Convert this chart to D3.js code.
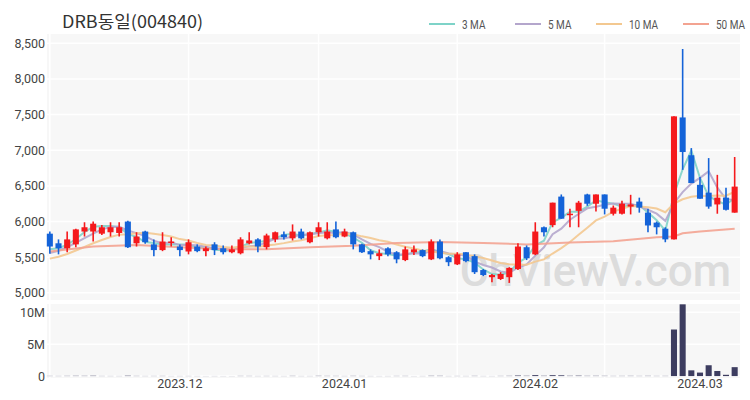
<!DOCTYPE html>
<html>
<head>
<meta charset="utf-8">
<script src="https://cdn.jsdelivr.net/npm/d3@7"></script>
<style>
  body { margin: 0; background: #fff; }
  svg { display: block; font-family: "Noto Sans CJK KR", "Noto Sans", sans-serif; }
</style>
</head>
<body>
<div id="chart"></div>
<script>
// DRB동일(004840) daily candles + moving averages + volume

const title = "DRB동일(004840)";

const dates = [
  "2023-11-10", "2023-11-13", "2023-11-14", "2023-11-15", "2023-11-16", "2023-11-17", "2023-11-20", "2023-11-21",
  "2023-11-22", "2023-11-23", "2023-11-24", "2023-11-27", "2023-11-28", "2023-11-29", "2023-11-30",
  "2023-12-01", "2023-12-04", "2023-12-05", "2023-12-06", "2023-12-07", "2023-12-08", "2023-12-11", "2023-12-12",
  "2023-12-13", "2023-12-14", "2023-12-15", "2023-12-18", "2023-12-19", "2023-12-20", "2023-12-21", "2023-12-22",
  "2023-12-26", "2023-12-27", "2023-12-28",
  "2024-01-02", "2024-01-03", "2024-01-04", "2024-01-05", "2024-01-08", "2024-01-09", "2024-01-10", "2024-01-11",
  "2024-01-12", "2024-01-15", "2024-01-16", "2024-01-17", "2024-01-18", "2024-01-19", "2024-01-22", "2024-01-23",
  "2024-01-24", "2024-01-25", "2024-01-26", "2024-01-29", "2024-01-30", "2024-01-31",
  "2024-02-01", "2024-02-02", "2024-02-05", "2024-02-06", "2024-02-07", "2024-02-08", "2024-02-13", "2024-02-14",
  "2024-02-15", "2024-02-16", "2024-02-19", "2024-02-20", "2024-02-21", "2024-02-22", "2024-02-23", "2024-02-26",
  "2024-02-27", "2024-02-28", "2024-02-29",
  "2024-03-04", "2024-03-05", "2024-03-06", "2024-03-07", "2024-03-08"
];

const open = [
  5830, 5695, 5625, 5680, 5860, 5860, 5830, 5850, 5840, 6000, 5695, 5860, 5680, 5600, 5710,
  5650, 5580, 5650, 5585, 5680, 5625, 5570, 5555, 5695, 5750, 5640, 5750, 5820, 5765, 5860, 5710, 5850, 5765, 5890,
  5790, 5850, 5680, 5585, 5515, 5625, 5570, 5460, 5570, 5600, 5470, 5720, 5500, 5400, 5570, 5515, 5320, 5220, 5195, 5220, 5335, 5640,
  5540, 5920, 5950, 6350, 6100, 6150, 6380, 6250, 6380, 6110, 6110, 6210, 6280, 6125, 5985, 5900, 5750, 7460, 6930,
  6515, 6405, 6240, 6335, 6125
];
const high = [
  5860, 5750, 5860, 5900, 5990, 6000, 5950, 5990, 5990, 6010, 5850, 5870, 5750, 5850, 5780,
  5680, 5750, 5680, 5650, 5710, 5665, 5665, 5780, 5850, 5765, 5830, 5860, 5860, 5960, 5900, 5860, 5990, 5990, 6000,
  5900, 5860, 5690, 5610, 5610, 5640, 5585, 5650, 5665, 5610, 5750, 5750, 5515, 5570, 5570, 5540, 5335, 5265, 5290, 5360, 5695, 5665,
  5990, 5930, 6265, 6380, 6180, 6290, 6390, 6380, 6380, 6225, 6290, 6375, 6335, 6180, 6000, 5920, 7475, 8420, 7030,
  6625, 6890, 6655, 6475, 6905
];
const low = [
  5550, 5540, 5570, 5640, 5790, 5720, 5810, 5790, 5790, 5630, 5650, 5690, 5515, 5585, 5650,
  5515, 5540, 5570, 5515, 5530, 5540, 5555, 5540, 5680, 5570, 5610, 5710, 5750, 5735, 5750, 5695, 5790, 5750, 5765,
  5780, 5610, 5560, 5470, 5460, 5515, 5415, 5445, 5530, 5500, 5460, 5470, 5375, 5390, 5430, 5265, 5235, 5150, 5180, 5140, 5320, 5460,
  5530, 5790, 5920, 6040, 5920, 5920, 6220, 6140, 6100, 6085, 6100, 6100, 6125, 5850, 5820, 5710, 5750, 6725, 6540,
  6320, 6180, 6110, 6155, 6125
];
const close = [
  5650, 5625, 5750, 5890, 5920, 5970, 5920, 5920, 5920, 5640, 5790, 5710, 5600, 5720, 5720,
  5600, 5710, 5585, 5625, 5600, 5570, 5610, 5750, 5735, 5650, 5805, 5850, 5780, 5860, 5765, 5850, 5920, 5860, 5780,
  5860, 5680, 5570, 5540, 5555, 5540, 5470, 5610, 5610, 5515, 5720, 5485, 5430, 5540, 5445, 5290, 5250, 5250, 5265, 5350, 5650, 5485,
  5860, 5850, 6265, 6040, 6110, 6265, 6250, 6380, 6180, 6195, 6250, 6240, 6195, 5945, 5920, 5750, 7475, 6975, 6540,
  6320, 6210, 6335, 6165, 6490
];
const volume = [
  30000, 25000, 35000, 45000, 40000, 55000, 25000, 22000, 20000, 60000, 30000, 22000, 25000, 28000, 18000,
  20000, 22000, 18000, 15000, 18000, 15000, 14000, 30000, 28000, 20000, 25000, 22000, 19000, 35000, 21000, 20000, 40000, 32000, 30000,
  22000, 35000, 25000, 20000, 18000, 19000, 28000, 30000, 15000, 20000, 45000, 42000, 20000, 25000, 22000, 35000, 20000, 18000, 30000, 40000, 90000, 50000,
  150000, 50000, 140000, 120000, 50000, 70000, 40000, 45000, 40000, 28000, 32000, 38000, 30000, 38000, 28000, 32000,
  7300000, 11250000, 900000,
  550000, 1700000, 800000, 200000, 1400000
];
// closes before the visible window (for the short moving averages)
const priorCloses = [5350, 5380, 5400, 5420, 5450, 5470, 5500, 5580, 5600];

// 50-day MA at selected days
const ma50Dates = [
  "2023-11-10", "2023-11-17", "2023-11-24", "2023-12-01", "2023-12-08", "2023-12-15", "2023-12-22",
  "2024-01-03", "2024-01-10", "2024-01-17", "2024-01-24", "2024-01-31", "2024-02-07", "2024-02-16",
  "2024-02-23", "2024-02-27", "2024-02-28", "2024-03-04", "2024-03-08"
];
const ma50Values = [
  5580, 5650, 5670, 5640, 5610, 5610, 5640,
  5660, 5700, 5715, 5700, 5680, 5705, 5725,
  5780, 5790, 5835, 5860, 5900
];

const priceTicks = [5000, 5500, 6000, 6500, 7000, 7500, 8000, 8500];
const volumeTicks = [0, 5000000, 10000000];
const monthTicks = ["2023-12-01", "2024-01-02", "2024-02-01", "2024-03-04"];
const gridDays = ["2023-11-10", "2023-12-04", "2023-12-26", "2024-01-19", "2024-02-15"];

const maSeries = [
  { label: "3 MA", n: 3, color: "#7ed3c8" },
  { label: "5 MA", n: 5, color: "#b4a6cc" },
  { label: "10 MA", n: 10, color: "#f3c890" },
];
const ma50Color = "#f3a391";

const W = 750, H = 400;
const left = 45.5, right = 739;

const svg = d3.select("#chart").append("svg").attr("width", W).attr("height", H);

const x = d3.scaleBand().domain(dates).range([left, right]).paddingInner(0.3).paddingOuter(0.15);
const cx = d => x(d) + x.bandwidth() / 2;

const y = d3.scaleLinear().domain([4900, 8630]).range([300, 34]);
const yv = d3.scaleLinear().domain([-300000, 11300000]).range([378, 304]);

// panels
svg.append("rect").attr("x", 47).attr("y", 34).attr("width", 693).attr("height", 266).attr("fill", "#f7f7f7");
svg.append("rect").attr("x", 47).attr("y", 304).attr("width", 693).attr("height", 74).attr("fill", "#f7f7f7");

// grid
svg.append("g").selectAll("line").data(priceTicks).join("line")
  .attr("x1", 47).attr("x2", 740).attr("y1", d => y(d)).attr("y2", d => y(d))
  .attr("stroke", "#fff").attr("stroke-width", 1.5);
svg.append("g").selectAll("line").data(volumeTicks).join("line")
  .attr("x1", 47).attr("x2", 740).attr("y1", d => yv(d)).attr("y2", d => yv(d))
  .attr("stroke", "#fff").attr("stroke-width", 1.5);
svg.append("g").selectAll("line").data(gridDays).join("line")
  .attr("x1", d => cx(d)).attr("x2", d => cx(d)).attr("y1", 34).attr("y2", 300)
  .attr("stroke", "#fff").attr("stroke-width", 1.5);
svg.append("g").selectAll("line").data(gridDays).join("line")
  .attr("x1", d => cx(d)).attr("x2", d => cx(d)).attr("y1", 304).attr("y2", 378)
  .attr("stroke", "#fff").attr("stroke-width", 1.5);

// watermark
svg.append("text")
  .attr("x", 731).attr("y", 286)
  .attr("text-anchor", "end")
  .style("font-family", "Roboto, sans-serif")
  .style("font-size", "44px")
  .style("font-weight", "500")
  .attr("fill", "#dcdcdc")
  .text("ChViewV.com");

// axes labels
const yAxis = svg.append("g").attr("transform", "translate(45,0)")
  .call(d3.axisLeft(y).tickValues(priceTicks).tickSize(0).tickPadding(0).tickFormat(d3.format(",")));
yAxis.select(".domain").remove();
yAxis.selectAll("text").style("font-size", "12.5px").attr("fill", "#444")
  .style("font-family", "Roboto, sans-serif");

const vAxis = svg.append("g").attr("transform", "translate(45,0)")
  .call(d3.axisLeft(yv).tickValues(volumeTicks).tickSize(0).tickPadding(0)
    .tickFormat(d => d === 0 ? "0" : d / 1e6 + "M"));
vAxis.select(".domain").remove();
vAxis.selectAll("text").style("font-size", "12.5px").attr("fill", "#444")
  .style("font-family", "Roboto, sans-serif");

const xAxis = svg.append("g").attr("transform", "translate(0,376)")
  .call(d3.axisBottom(x).tickValues(monthTicks).tickSize(0).tickPadding(3)
    .tickFormat(d => d.slice(0, 7).replace("-", ".")));
xAxis.select(".domain").remove();
xAxis.selectAll("text").style("font-size", "12.5px").attr("fill", "#444")
  .style("font-family", "Roboto, sans-serif");

// moving averages
const allCloses = priorCloses.concat(close);
const off = priorCloses.length;
maSeries.forEach(s => {
  const vals = dates.map((d, i) => {
    const seg = allCloses.slice(i + off - s.n + 1, i + off + 1);
    return { d, v: d3.mean(seg) };
  });
  svg.append("path").datum(vals)
    .attr("fill", "none").attr("stroke", s.color).attr("stroke-width", 2).attr("opacity", 0.9)
    .attr("d", d3.line().x(p => cx(p.d)).y(p => y(p.v)));
});
svg.append("path").datum(ma50Dates.map((d, i) => ({ d, v: ma50Values[i] })))
  .attr("fill", "none").attr("stroke", ma50Color).attr("stroke-width", 2).attr("opacity", 0.9)
  .attr("d", d3.line().x(p => cx(p.d)).y(p => y(p.v)));

// candles
const candles = dates.map((d, i) => ({ d, o: open[i], h: high[i], l: low[i], c: close[i], v: volume[i] }));
const up = "#f5191c", down = "#1463d8";
const cg = svg.append("g");
cg.selectAll("line").data(candles).join("line")
  .attr("x1", p => cx(p.d)).attr("x2", p => cx(p.d))
  .attr("y1", p => y(p.h)).attr("y2", p => y(p.l))
  .attr("stroke", p => p.c >= p.o ? up : down).attr("stroke-width", 1.6);
cg.selectAll("rect").data(candles).join("rect")
  .attr("x", p => x(p.d)).attr("width", x.bandwidth())
  .attr("y", p => y(Math.max(p.o, p.c)))
  .attr("height", p => Math.max(1.5, Math.abs(y(p.o) - y(p.c))))
  .attr("fill", p => p.c >= p.o ? up : down);

// volume bars
svg.append("g").selectAll("rect").data(candles).join("rect")
  .attr("x", p => x(p.d)).attr("width", x.bandwidth())
  .attr("y", p => yv(p.v)).attr("height", p => yv(0) - yv(p.v))
  .attr("fill", "#3d3d60");

// title
svg.append("text").attr("x", 62).attr("y", 28).text(title)
  .style("font-size", "17px").attr("fill", "#333")
  .attr("textLength", 141).attr("lengthAdjust", "spacingAndGlyphs");

// legend
const legendItems = maSeries.map(s => ({ label: s.label, color: s.color }))
  .concat([{ label: "50 MA", color: ma50Color }]);
const legendX = [429, 515, 596, 683];
const lg = svg.append("g");
legendItems.forEach((it, i) => {
  lg.append("line").attr("x1", legendX[i]).attr("x2", legendX[i] + 26).attr("y1", 24).attr("y2", 24)
    .attr("stroke", it.color).attr("stroke-width", 2);
  lg.append("g").attr("transform", `translate(${legendX[i] + 33},28.5) scale(0.8,1)`)
    .append("text").text(it.label)
    .style("font-size", "12.5px").attr("fill", "#555").style("font-family", "Roboto, sans-serif");
});
</script>
</body>
</html>
